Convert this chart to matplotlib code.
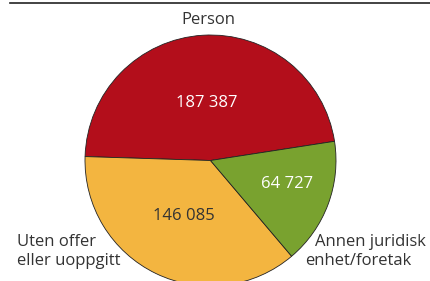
import matplotlib.pyplot as plt

plt.rcParams['font.family'] = ['Open Sans', 'DejaVu Sans']

# data
categories = ['Person', 'Uten offer\neller uoppgitt', 'Annen juridisk\nenhet/foretak']
values = [187387, 146085, 64727]
colors = ['#B30E1B', '#F3B540', '#79A22F']
value_colors = ['white', '#333333', 'white']

fig = plt.figure(figsize=(4.30, 2.81), dpi=100)
ax = fig.add_axes([0, 0, 1, 1])

cx, cy, r = 210.5, 120.5, 125.5
wedges, _ = ax.pie(values, colors=colors, startangle=8.8, counterclock=True,
                   center=(cx, cy), radius=r, frame=True,
                   wedgeprops=dict(edgecolor='#222222', linewidth=0.6))
ax.set_xlim(0, 430)
ax.set_ylim(0, 281)
ax.axis('off')

def fmt(v):
    return f'{v:,}'.replace(',', ' ')

# value labels inside slices
val_pos = [(207, 178), (184, 65), (287, 97)]
for v, (x, y), c in zip(values, val_pos, value_colors):
    ax.text(x, y, fmt(v), ha='center', va='center', fontsize=12, color=c)

# category labels
ax.text(208, 261, categories[0], ha='center', va='center', fontsize=12, color='#333333')
left = categories[1].split('\n')
ax.text(17, 39, left[0], ha='left', va='center', fontsize=12, color='#333333')
ax.text(17, 20, left[1], ha='left', va='center', fontsize=12, color='#333333')
right = categories[2].split('\n')
ax.text(315, 39, right[0], ha='left', va='center', fontsize=12, color='#333333')
ax.text(305, 20, right[1], ha='left', va='center', fontsize=12, color='#333333')

# rule at top
ax.plot([10, 430], [278.5, 278.5], color='#222222', linewidth=1.2, clip_on=False)

fig.savefig('out.png', dpi=100)
